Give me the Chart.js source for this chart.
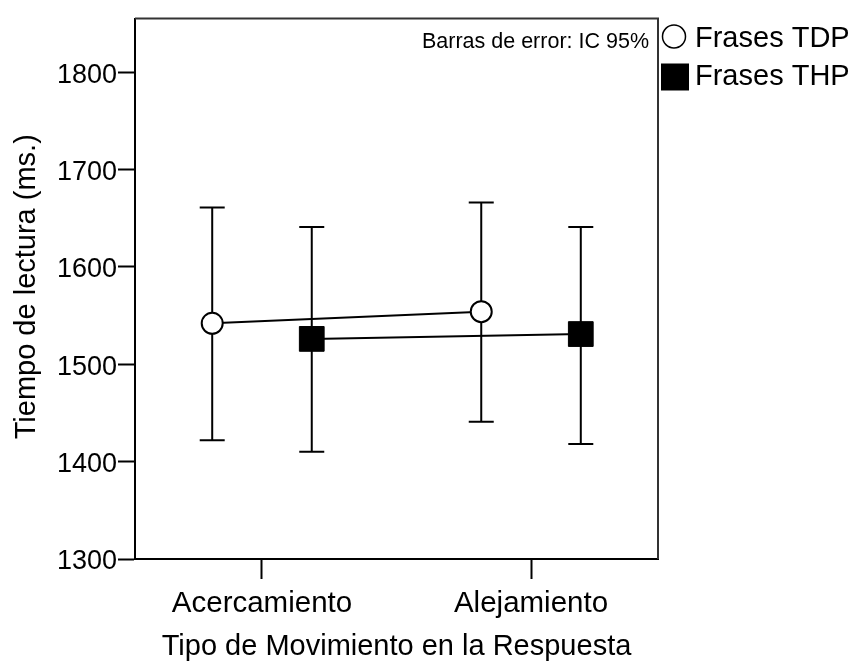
<!DOCTYPE html>
<html>
<head>
<meta charset="utf-8">
<script src="https://cdn.jsdelivr.net/npm/chart.js@4"></script>
<style>
  html, body { margin: 0; padding: 0; background: #fff; }
  #wrap { width: 855px; height: 663px; }
</style>
</head>
<body>
<div id="wrap"><canvas id="chart" width="855" height="663"></canvas></div>
<script>
// --- données ---
const categories = ['Acercamiento', 'Alejamiento'];
const seriesNames = ['Frases TDP', 'Frases THP'];
const tdpMean = [1542, 1554];
const tdpLow  = [1422, 1441];
const tdpHigh = [1661, 1666];
const thpMean = [1526, 1531];
const thpLow  = [1410, 1418];
const thpHigh = [1641, 1641];
const yTicks = [1300, 1400, 1500, 1600, 1700, 1800];

const FONT = '"Liberation Sans", Arial, sans-serif';
const dodge = 0.185;

const pts = (means, shift) => means.map((m, i) => ({ x: i + shift, y: m }));

// barres d'erreur + cadre + légende + titres
const extras = {
  id: 'extras',
  beforeDatasetsDraw(chart) {
    const { ctx, scales: { x, y } } = chart;
    const groups = [[tdpLow, tdpHigh, -dodge], [thpLow, thpHigh, dodge]];
    ctx.save();
    ctx.strokeStyle = '#000';
    ctx.lineWidth = 2;
    groups.forEach(([lo, hi, shift]) => {
      lo.forEach((v, i) => {
        const px = x.getPixelForValue(i + shift);
        const y1 = y.getPixelForValue(v), y2 = y.getPixelForValue(hi[i]);
        ctx.beginPath();
        ctx.moveTo(px, y1); ctx.lineTo(px, y2);
        ctx.moveTo(px - 12.5, y1); ctx.lineTo(px + 12.5, y1);
        ctx.moveTo(px - 12.5, y2); ctx.lineTo(px + 12.5, y2);
        ctx.stroke();
      });
    });
    ctx.restore();
  },
  afterDraw(chart) {
    const { ctx, chartArea: a } = chart;
    ctx.save();
    // cadre haut / droite
    ctx.strokeStyle = '#333';
    ctx.lineWidth = 2;
    ctx.beginPath();
    ctx.moveTo(a.left, a.top); ctx.lineTo(a.right, a.top); ctx.lineTo(a.right, a.bottom);
    ctx.stroke();

    ctx.fillStyle = '#000';
    ctx.font = '21.5px ' + FONT;
    ctx.textAlign = 'right';
    ctx.textBaseline = 'alphabetic';
    ctx.fillText('Barras de error: IC 95%', a.right - 9, a.top + 29);

    // légende
    ctx.font = '29px ' + FONT;
    ctx.textAlign = 'left';
    ctx.lineWidth = 1.5;
    ctx.strokeStyle = '#000';
    ctx.beginPath();
    ctx.arc(a.right + 16, a.top + 18, 11.5, 0, Math.PI * 2);
    ctx.fillStyle = '#fff'; ctx.fill(); ctx.stroke();
    ctx.fillStyle = '#000';
    ctx.fillText(seriesNames[0], a.right + 37, a.top + 28);
    ctx.fillRect(a.right + 3, a.top + 45, 28, 27);
    ctx.fillText(seriesNames[1], a.right + 37, a.top + 66);

    // titres d'axes
    ctx.textAlign = 'center';
    ctx.fillText('Tipo de Movimiento en la Respuesta', (a.left + a.right) / 2, 655);
    ctx.translate(35, (a.top + a.bottom) / 2 - 2);
    ctx.rotate(-Math.PI / 2);
    ctx.fillText('Tiempo de lectura (ms.)', 0, 0);
    ctx.restore();
  }
};

new Chart(document.getElementById('chart'), {
  type: 'scatter',
  data: {
    datasets: [
      {
        label: seriesNames[0],
        data: pts(tdpMean, -dodge),
        showLine: true,
        borderColor: '#000',
        borderWidth: 2,
        pointStyle: 'circle',
        pointRadius: 10.5,
        pointBackgroundColor: '#fff',
        pointBorderColor: '#000',
        pointBorderWidth: 2
      },
      {
        label: seriesNames[1],
        data: pts(thpMean, dodge),
        showLine: true,
        borderColor: '#000',
        borderWidth: 2,
        pointStyle: 'rect',
        pointRadius: 17.5,
        pointBackgroundColor: '#000',
        pointBorderColor: '#000',
        pointBorderWidth: 1
      }
    ]
  },
  options: {
    responsive: false,
    animation: false,
    layout: { padding: { top: 12, right: 197, left: 0, bottom: 0 } },
    plugins: { legend: { display: false }, tooltip: { enabled: false } },
    scales: {
      x: {
        type: 'linear',
        min: -0.472,
        max: 1.472,
        afterBuildTicks: s => { s.ticks = [0, 1].map(v => ({ value: v })); },
        afterFit: s => { s.height = 104; },
        grid: { drawOnChartArea: false, tickLength: 20, tickColor: '#000', tickWidth: 2 },
        border: { color: '#000', width: 2 },
        ticks: {
          color: '#000',
          font: { family: FONT, size: 29.5 },
          padding: 7,
          maxRotation: 0,
          callback: v => categories[v]
        }
      },
      y: {
        min: 1300,
        max: 1855,
        afterBuildTicks: s => { s.ticks = yTicks.map(v => ({ value: v })); },
        afterFit: s => { s.width = 135; },
        grid: { drawOnChartArea: false, tickLength: 17, tickColor: '#000', tickWidth: 2 },
        border: { color: '#000', width: 2 },
        ticks: {
          color: '#000',
          font: { family: FONT, size: 27 },
          padding: 1,
          labelOffset: 3,
          callback: v => String(v)
        }
      }
    }
  },
  plugins: [extras]
});
</script>
</body>
</html>
